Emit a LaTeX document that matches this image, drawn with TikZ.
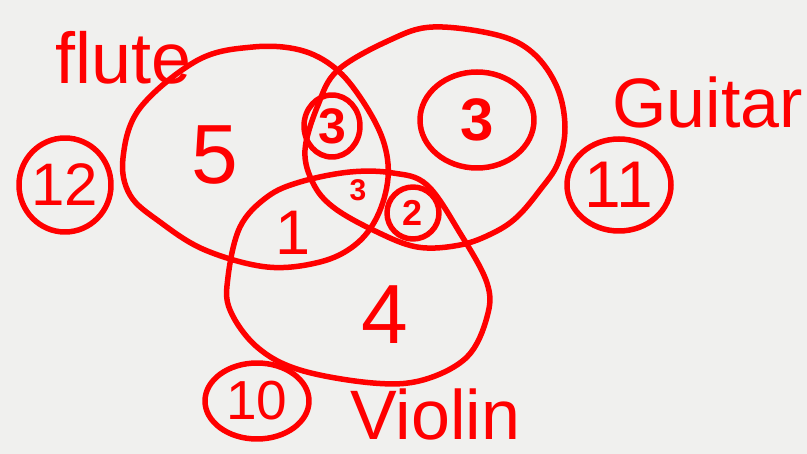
\documentclass[tikz,border=0pt]{standalone}
\usepackage{fontspec}
\setmainfont{Liberation Sans}
\usetikzlibrary{shapes.geometric}
\definecolor{bgc}{HTML}{F0F0EE}
\definecolor{ink}{HTML}{FF0000}
\begin{document}
\begin{tikzpicture}[x=1pt,y=-1pt,
  stroke/.style={draw=ink,line width=5.5pt,line cap=round,line join=round},
  lab/.style={text=ink,inner sep=0pt,font=#1},
  ring/.style={stroke,ellipse,inner sep=0pt}]
\fill[bgc] (0,0) rectangle (807,454);
\useasboundingbox (0,0) rectangle (807,454);
% Flute set
\draw[stroke] plot[smooth cycle,tension=0.6] coordinates {(123,158) (140,108) (198,60) (253,47) (300,50) (335,68) (362,100) (383,140) (388,178) (377,217) (355,245) (320,262) (267,267) (205,250) (160,222) (130,195)};
% Guitar set
\draw[stroke] plot[smooth cycle,tension=0.6] coordinates {(305,150) (318,105) (338,70) (390,40) (433,27) (497,35) (533,53) (557,87) (565,127) (558,163) (540,190) (517,217) (493,233) (460,245) (417,247) (373,230) (333,207) (313,183)};
% Violin set
\draw[stroke] plot[smooth cycle,tension=0.6] coordinates {(228,277) (240,227) (267,197) (300,182) (350,172) (393,173) (427,185) (460,233) (487,283) (487,317) (467,357) (423,380) (373,383) (300,370) (257,347) (230,310)};
% inner rings
\node[ring,minimum width=56pt,minimum height=62pt] (r3a) at (332,126) {};
\node[ring,minimum width=114pt,minimum height=96pt] (r3b) at (477,120) {};
\node[ring,minimum width=52pt,minimum height=52pt] (r2) at (413,213) {};
\node[ring,minimum width=92pt,minimum height=94pt] (r12) at (65,185) {};
\node[ring,minimum width=104pt,minimum height=92pt] (r11) at (619,185) {};
\node[ring,minimum width=104pt,minimum height=76pt] (r10) at (257,401) {};
% numbers
\node[lab={\fontsize{84}{84}\selectfont}] (n5) at (215,155) {5};
\node[lab={\fontsize{84}{84}\selectfont}] (n4) at (385,315) {4};
\node[lab={\fontsize{63}{63}\selectfont}] (n1) at (293,233) {1};
\node[lab={\fontsize{50}{50}\selectfont\bfseries}] (n3a) at (r3a) {3};
\node[lab={\fontsize{60}{60}\selectfont\bfseries}] (n3b) at (r3b) {3};
\node[lab={\fontsize{36}{36}\selectfont\bfseries}] (n2) at (r2) {2};
\node[lab={\fontsize{30}{30}\selectfont\bfseries}] (n3c) at (358,190) {3};
\node[lab={\fontsize{60}{60}\selectfont}] (n12) at (r12) {12};
\node[lab={\fontsize{66}{66}\selectfont}] (n11) at (r11) {11};
\node[lab={\fontsize{55}{55}\selectfont}] (n10) at (r10) {10};
% set names
\node[lab={\fontsize{72}{72}\selectfont},anchor=base west] (tf) at (55,84) {flute};
\node[lab={\fontsize{70}{70}\selectfont},anchor=base west] (tg) at (612,128) {Guitar};
\node[lab={\fontsize{70}{70}\selectfont},anchor=base west] (tv) at (350,440) {Violin};
\end{tikzpicture}
\end{document}
